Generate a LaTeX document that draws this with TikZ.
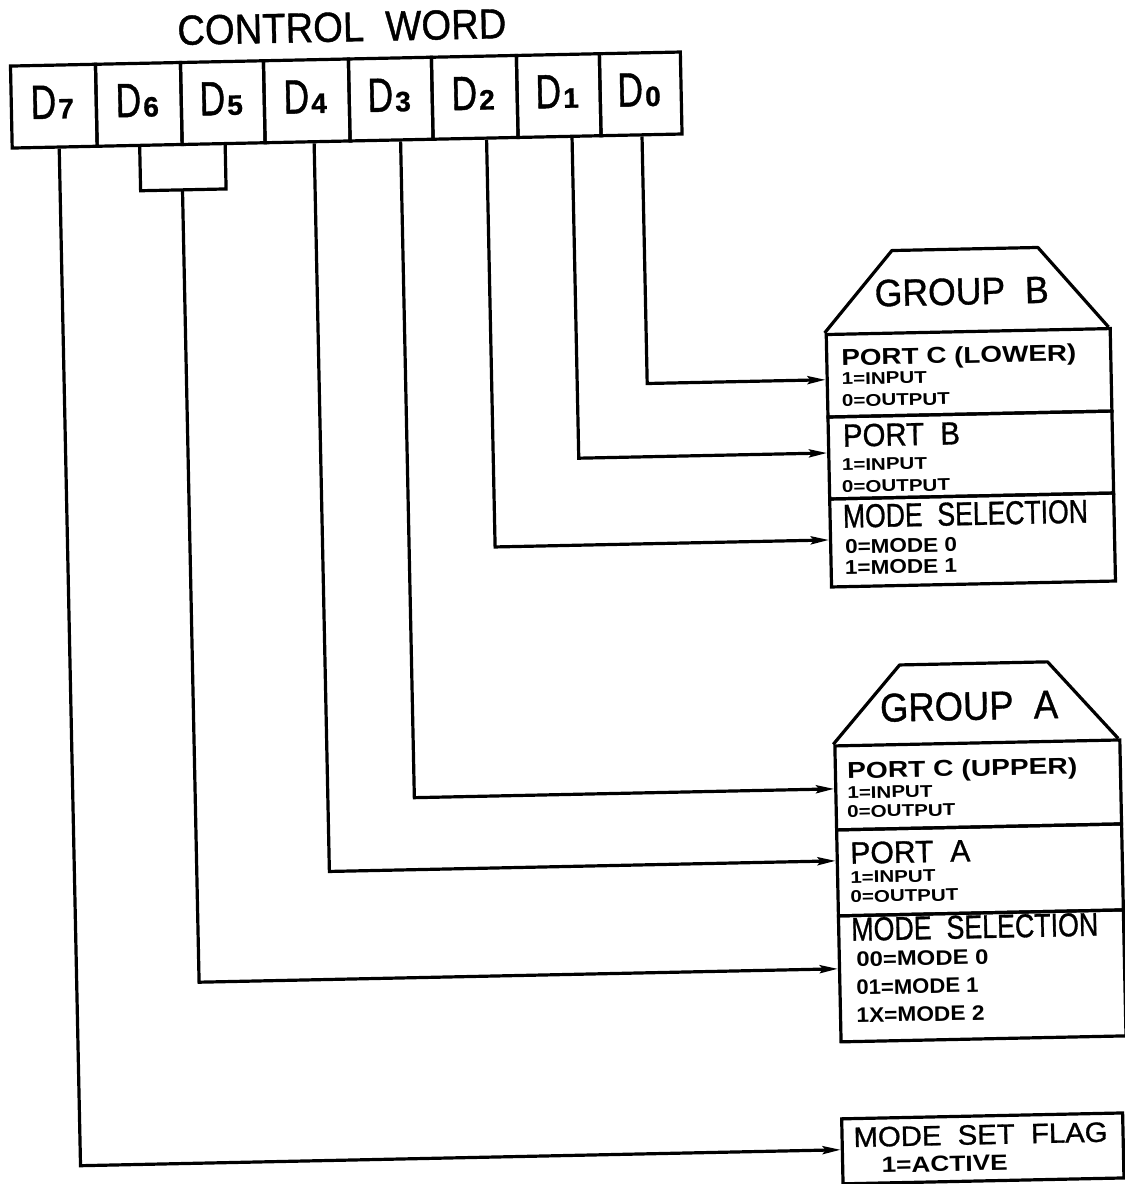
\documentclass[tikz,border=0pt]{standalone}
\usepackage{fontspec}
\setmainfont{Liberation Sans}
\newfontfamily\cadr[FakeBold=1]{Liberation Sans}
\usepackage{graphicx}
\usetikzlibrary{arrows.meta}
\newcommand\fitw[2]{\resizebox{#1pt}{\height}{#2}}
\newcommand\fr[1]{\fontsize{#1}{#1}\selectfont\cadr}
\newcommand\fb[1]{\fontsize{#1}{#1}\selectfont\bfseries}
\newcommand\dlab[2]{\fr{48}\scalebox{0.74}[1]{D}\hspace{2pt}{\fb{28}#2}}
\begin{document}
\begin{tikzpicture}[x=1pt,y=-1pt,
  lw/.style={line width=3.2pt},
  bitbox/.style={draw,lw,minimum height=82pt,inner sep=0pt,anchor=north west},
  secbox/.style={draw,lw,inner sep=0pt,anchor=north west},
  lbl/.style={anchor=base west,inner sep=0pt},
  dl/.style={anchor=base,inner sep=0pt},
  arr/.style={lw,-{Stealth[length=18pt,width=8pt,inset=3pt]}},
  wire/.style={lw}]
\useasboundingbox (0,0) rectangle (1125,1184);
\begin{scope}[rotate around={1.2:(562,592)},transform shape]
% title
\node[lbl] (title) at (189,37) {\fr{42}\fitw{329}{CONTROL\ \ WORD}};
% bit boxes
\node[bitbox,minimum width=85pt] (d7) at (20,53) {};
\node[bitbox,minimum width=85pt] (d6) at (105,53) {};
\node[bitbox,minimum width=83pt] (d5) at (190,53) {};
\node[bitbox,minimum width=85pt] (d4) at (273,53) {};
\node[bitbox,minimum width=83pt] (d3) at (358,53) {};
\node[bitbox,minimum width=85pt] (d2) at (441,53) {};
\node[bitbox,minimum width=83pt] (d1) at (526,53) {};
\node[bitbox,minimum width=81pt] (d0) at (609,53) {};
\node[dl] (l7) at (62.5,108) {\dlab{D}{7}};
\node[dl] (l6) at (147.5,108) {\dlab{D}{6}};
\node[dl] (l5) at (231.5,108) {\dlab{D}{5}};
\node[dl] (l4) at (315.5,108) {\dlab{D}{4}};
\node[dl] (l3) at (399.5,108) {\dlab{D}{3}};
\node[dl] (l2) at (483.5,108) {\dlab{D}{2}};
\node[dl] (l1) at (567.5,108) {\dlab{D}{1}};
\node[dl] (l0) at (649.5,108) {\dlab{D}{0}};
% group B
\draw[lw,line join=round] (830,338.5) -- (899,257.5) -- (1045,257.5) -- (1114,338.5);
\node[secbox,minimum width=284pt,minimum height=82.5pt] (pcl) at (830,338.5) {};
\node[secbox,minimum width=284pt,minimum height=82pt] (pb) at (830,421) {};
\node[secbox,minimum width=284pt,minimum height=88pt] (msb) at (830,503) {};
\node[lbl] (tgb) at (880.7,313) {\fr{38}\fitw{174}{GROUP\ \ B}};
\node[lbl] (t1) at (846,371.6) {\fb{23}\fitw{235}{PORT C (LOWER)}};
\node[lbl] (t2) at (846,390.6) {\fb{17}\fitw{85}{1=INPUT}};
\node[lbl] (t3) at (845.7,412.6) {\fb{17}\fitw{108}{0=OUTPUT}};
\node[lbl] (t4) at (846,452.6) {\fr{32}\fitw{117}{PORT\ \ B}};
\node[lbl] (t5) at (844.4,476.6) {\fb{17}\fitw{85}{1=INPUT}};
\node[lbl] (t6) at (844,498.6) {\fb{17}\fitw{108}{0=OUTPUT}};
\node[lbl] (t7) at (844.3,533.6) {\fr{33}\fitw{245}{MODE\ \ SELECTION}};
\node[lbl] (t8) at (845.8,559.7) {\fb{20}\fitw{112}{0=MODE 0}};
\node[lbl] (t9) at (845.3,580.7) {\fb{20}\fitw{112}{1=MODE 1}};
% group A
\draw[lw,line join=round] (830,750) -- (898,672) -- (1046,672) -- (1115,750);
\node[secbox,minimum width=285pt,minimum height=84pt] (pcu) at (830,750) {};
\node[secbox,minimum width=285pt,minimum height=86pt] (pa) at (830,834) {};
\node[secbox,minimum width=285pt,minimum height=126pt] (msa) at (830,920) {};
\node[lbl] (tga) at (877.4,728.4) {\fr{40}\fitw{178}{GROUP\ \ A}};
\node[lbl] (u1) at (843.3,784.7) {\fb{23}\fitw{230}{PORT C (UPPER)}};
\node[lbl] (u2) at (843,804.7) {\fb{17}\fitw{85}{1=INPUT}};
\node[lbl] (u3) at (842.5,823.7) {\fb{17}\fitw{108}{0=OUTPUT}};
\node[lbl] (u4) at (844.6,869.8) {\fr{31}\fitw{120}{PORT\ \ A}};
\node[lbl] (u5) at (844.2,889.3) {\fb{17}\fitw{85}{1=INPUT}};
\node[lbl] (u6) at (843.8,908.8) {\fb{17}\fitw{108}{0=OUTPUT}};
\node[lbl] (u7) at (844,946.8) {\fr{33}\fitw{247}{MODE\ \ SELECTION}};
\node[lbl] (u8) at (848.5,972.9) {\fb{21}\fitw{132}{00=MODE 0}};
\node[lbl] (u9) at (848,1000.9) {\fb{21}\fitw{122}{01=MODE 1}};
\node[lbl] (u10) at (847.4,1028.9) {\fb{21}\fitw{128}{1X=MODE 2}};
% mode set flag
\node[secbox,minimum width=281pt,minimum height=65pt] (flag) at (829,1123) {};
\node[lbl] (f1) at (841.9,1153) {\fr{28}\fitw{254}{MODE\ \ SET\ \ FLAG}};
\node[lbl] (f2) at (869.4,1179.4) {\fb{22}\fitw{126}{1=ACTIVE}};
% connectors
\coordinate (brk) at (191,182);
\draw[wire] (d6.south) -- (d6.south |- brk) -- ([xshift=1.5pt]d5.south |- brk) -- ([xshift=1.5pt]d5.south);
\draw[arr] ([xshift=0.5pt]d0.south) |- ([yshift=-4pt]pcl.west);
\draw[arr] ([xshift=12.5pt]d1.south) |- ([yshift=5pt]pb.west);
\draw[arr] ([xshift=11pt]d2.south) |- ([yshift=3pt]msb.west);
\draw[arr] ([xshift=9pt]d3.south) |- ([yshift=-1pt]pcu.west);
\draw[arr] ([xshift=6.5pt]d4.south) |- ([yshift=12pt]pa.west);
\draw[arr] (brk) |- ([yshift=10pt]msa.west);
\draw[arr] ([xshift=4.5pt]d7.south) |- ([yshift=1.5pt]flag.west);
\end{scope}
\end{tikzpicture}
\end{document}
